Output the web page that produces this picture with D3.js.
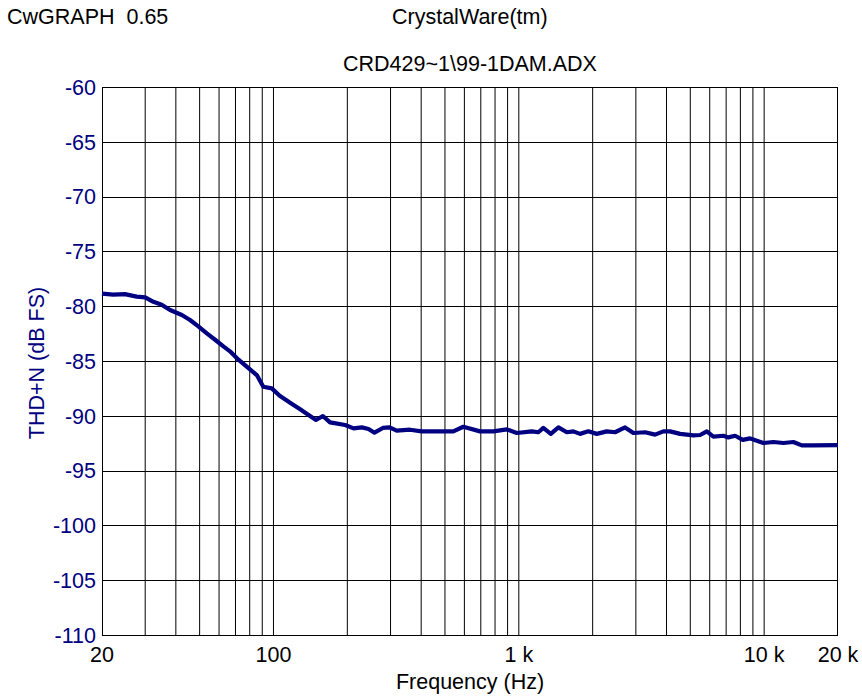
<!DOCTYPE html>
<html><head><meta charset="utf-8">
<script src="https://cdn.jsdelivr.net/npm/d3@7/dist/d3.min.js"></script>
<style>body{margin:0;background:#fff}svg{display:block}text{font-family:"Liberation Sans",Arial,sans-serif}</style>
</head><body><svg id="c" width="862" height="700"></svg>
<script>
const freqs = [20,22.2,24.8,27.7,30,32.4,35,37.9,42.3,45.7,49.4,53.5,57.8,62.5,66.5,70.8,77.8,85.5,90.9,98.4,106,119,128,139,149,159,170,196,212,229,244,258,279,297,318,360,402,541,594,695,788,893,981,1129,1201,1259,1350,1450,1569,1668,1776,1920,2078,2282,2467,2711,2931,3271,3594,3884,4136,4544,5148,5482,5838,6210,6822,7150,7612,8186,8766,9334,9932,10910,11980,13160,14240,15870,20000];
const thdn = [-78.85,-78.95,-78.9,-79.13,-79.2,-79.6,-79.86,-80.35,-80.8,-81.26,-81.84,-82.48,-83.06,-83.67,-84.12,-84.73,-85.52,-86.28,-87.35,-87.5,-88.17,-88.92,-89.38,-89.93,-90.38,-90.02,-90.6,-90.84,-91.15,-91.06,-91.2,-91.54,-91.11,-91.06,-91.36,-91.27,-91.42,-91.42,-91.0,-91.42,-91.42,-91.24,-91.57,-91.42,-91.5,-91.11,-91.65,-91.06,-91.5,-91.42,-91.65,-91.42,-91.65,-91.42,-91.5,-91.06,-91.57,-91.5,-91.72,-91.42,-91.42,-91.65,-91.78,-91.75,-91.42,-91.9,-91.82,-91.97,-91.82,-92.2,-92.06,-92.27,-92.48,-92.39,-92.48,-92.39,-92.7,-92.7,-92.67];
const yTicks = [-60,-65,-70,-75,-80,-85,-90,-95,-100,-105,-110];
const xTickVals = [20,100,1000,10000,20000];
const xTickLabels = ["20","100","1 k","10 k","20 k"];
const xGrid = [];
for (let d = 10; d <= 10000; d *= 10) for (let m = 1; m <= 9; m++) { const f = d*m; if (f > 20 && f <= 10000) xGrid.push(f); }

const L = 102, R = 838, T = 87, B = 635;
const FS = 21.5;
const svg = d3.select("#c");
const x = d3.scaleLog().domain([20,20000]).range([L,R]);
const y = d3.scaleLinear().domain([-110,-60]).range([B,T]);
const navy = "#000080";

svg.append("text").attr("x",7).attr("y",24).attr("font-size",FS).style("white-space","pre").text("CwGRAPH  0.65");
svg.append("text").attr("x",392).attr("y",24).attr("font-size",FS).text("CrystalWare(tm)");
svg.append("text").attr("x",(L+R)/2).attr("y",71).attr("font-size",FS).attr("text-anchor","middle").text("CRD429~1\\99-1DAM.ADX");

const g = svg.append("g");
g.selectAll("line.v").data(xGrid).join("line").attr("class","v")
  .attr("x1",d=>x(d)).attr("x2",d=>x(d)).attr("y1",T).attr("y2",B).attr("stroke","#000").attr("stroke-width",1);
g.selectAll("line.h").data(yTicks).join("line").attr("class","h")
  .attr("x1",L).attr("x2",R).attr("y1",d=>Math.round(y(d))+0.5).attr("y2",d=>Math.round(y(d))+0.5).attr("stroke","#000").attr("stroke-width",1);
g.append("rect").attr("x",L+0.5).attr("y",T+0.5).attr("width",R-L-1).attr("height",B-T).attr("fill","none").attr("stroke","#000");

svg.selectAll("text.yt").data(yTicks).join("text").attr("class","yt")
  .attr("x",96).attr("y",d=>y(d)).attr("dy","0.36em").attr("text-anchor","end")
  .attr("font-size",FS).attr("fill",navy).text(d=>d);
svg.selectAll("text.xt").data(xTickVals).join("text").attr("class","xt")
  .attr("x",d=>x(d)).attr("y",662).attr("text-anchor","middle")
  .attr("font-size",FS).attr("fill","#000").text((d,i)=>xTickLabels[i]);

svg.append("text").attr("x",(L+R)/2).attr("y",689).attr("text-anchor","middle").attr("font-size",FS).text("Frequency (Hz)");
svg.append("text").attr("transform","translate(44,363) rotate(-90)").attr("text-anchor","middle").attr("font-size",FS).attr("fill",navy).text("THD+N (dB FS)");

const line = d3.line().x((d,i)=>x(freqs[i])).y(d=>y(d));
svg.append("path").datum(thdn).attr("d",line).attr("fill","none").attr("stroke",navy).attr("stroke-width",4.2).attr("stroke-linejoin","round");
</script></body></html>
